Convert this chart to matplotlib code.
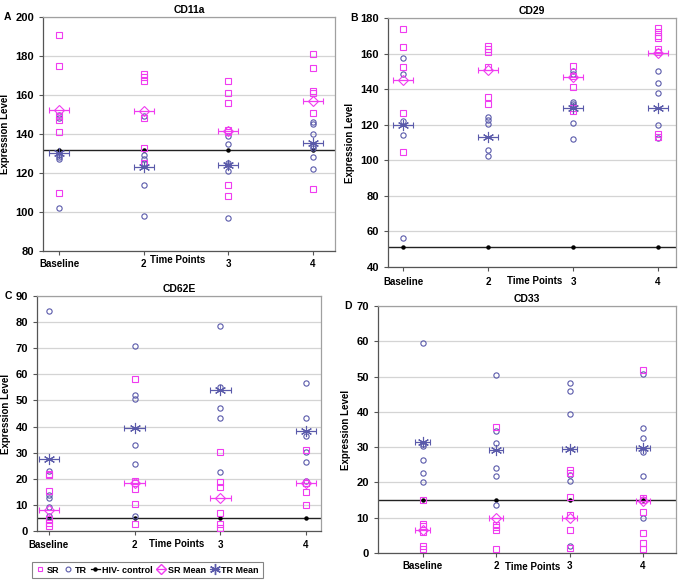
import numpy as np
import matplotlib
matplotlib.use("Agg")
import matplotlib.pyplot as plt
from matplotlib.lines import Line2D

plt.rcParams['font.family'] = ['Liberation Sans', 'DejaVu Sans']
plt.rcParams['font.weight'] = 'bold'
plt.rcParams['font.size'] = 7

categories = ["Baseline", "2", "3", "4"]

# CD11a
sr_a = [[191, 175, 149, 147, 141, 110], [171, 169, 167, 148, 133, 125],
        [167, 161, 156, 142, 141, 114, 108], [181, 174, 162, 161, 151, 112]]
tr_a = [[150, 148, 129, 128, 127, 102], [149, 129, 127, 125, 114, 98],
        [139, 135, 125, 124, 121, 97], [146, 145, 140, 134, 133, 128, 122]]
sr_mean_a = [152.5, 152, 141.5, 157]
tr_mean_a = [130.5, 123, 124, 135.5]
ctrl_a = [132, 132, 132, 132]

# CD29
sr_b = [[173.8, 163.6, 152.7, 126.4, 104.5], [164, 162.5, 161, 152.7, 135.6, 131.5],
        [153.3, 147.3, 141.5, 129.3, 128], [174.5, 172.3, 170, 169, 162.7, 161, 114.6, 113.3]]
tr_b = [[157.6, 148.6, 122.3, 114.4, 56.2], [124.4, 122.5, 120.6, 105.8, 102.6],
        [150.3, 148.6, 132.6, 131.7, 130.6, 120.8, 111.8], [150.5, 143.7, 137.7, 119.7, 112.5]]
sr_mean_b = [145, 151, 147, 160.5]
tr_mean_b = [120, 113, 129.5, 129.5]
ctrl_b = [51, 51, 51, 51]

# CD62E
sr_c = [[22, 21.4, 15.4, 4.5, 2.9, 1.9], [58.1, 19, 18.2, 16.1, 10.5, 2.5],
        [30.2, 18.6, 17, 7.0, 2.5, 1.0], [31, 18.4, 18.4, 15, 9.8]]
tr_c = [[84.3, 23.1, 13.8, 12.5, 9.3, 5.7], [70.9, 52, 50.4, 32.9, 25.8, 5.7],
        [78.4, 55.2, 47.2, 43.1, 22.7], [56.6, 43.1, 36.5, 30.1, 26.6, 19.1]]
sr_mean_c = [8, 18.5, 12.6, 18.5]
tr_mean_c = [27.4, 39.5, 54.1, 38.2]
ctrl_c = [5, 5, 5, 5]

# CD33
sr_d = [[15.1, 8.3, 7.7, 5.9, 1.9, 1.1], [35.8, 7.9, 7.5, 6.6, 1.1],
        [23.4, 22.6, 16, 10.8, 6.5, 1.3], [51.9, 15.7, 15.1, 11.7, 5.7, 2.8, 1.1]]
tr_d = [[59.4, 30.8, 30.4, 26.3, 22.8, 20.1], [50.5, 34.7, 31.3, 24.1, 21.9, 13.7],
        [48.2, 45.9, 39.5, 22.1, 20.3, 1.9], [50.6, 35.4, 32.5, 28.6, 21.9, 9.8]]
sr_mean_d = [6.6, 9.8, 9.9, 14.7]
tr_mean_d = [31.5, 29.2, 29.5, 29.7]
ctrl_d = [15, 15, 15, 15]

SR_C = "#F03CF0"
TR_C = "#5A5AAA"

panels = [
    # letter, title, sr, tr, srm, trm, ctrl, rect, xlim, ylim, step,
    # ylabel x, "Time Points" x / offset, tick pad, letter offset
    ("A", "CD11a", sr_a, tr_a, sr_mean_a, tr_mean_a, ctrl_a,
     [0.0628, 0.5687, 0.426, 0.402], (-0.19, 3.26), (80, 200), 20,
     -0.113, 0.462, 6.5, 3.0, -23),
    ("B", "CD29", sr_b, tr_b, sr_mean_b, tr_mean_b, ctrl_b,
     [0.5664, 0.5412, 0.4204, 0.4278], (-0.18, 3.21), (40, 180), 20,
     -0.115, 0.51, 10, 4.5, -22),
    ("C", "CD62E", sr_c, tr_c, sr_mean_c, tr_mean_c, ctrl_c,
     [0.054, 0.0876, 0.4146, 0.4038], (-0.14, 3.175), (0, 90), 10,
     -0.092, 0.49, 9.4, 3.5, -18),
    ("D", "CD33", sr_d, tr_d, sr_mean_d, tr_mean_d, ctrl_d,
     [0.5518, 0.0498, 0.435, 0.4244], (-0.61, 3.45), (0, 70), 10,
     -0.091, 0.52, 10, 2.5, -19),
]

fig = plt.figure(figsize=(6.85, 5.82), dpi=100)

for (letter, title, sr, tr, srm, trm, ctrl, rect, xlim, ylim, step,
     ylab_x, tp_x, tp_dy, tpad, let_dx) in panels:
    ax = fig.add_axes(rect)
    ax.set_xlim(*xlim)
    ax.set_ylim(*ylim)
    ax.set_yticks(np.arange(ylim[0], ylim[1] + 1, step))
    ax.yaxis.grid(True, color="#d4d4d4", lw=0.9)
    ax.set_axisbelow(True)
    x = np.arange(len(categories))

    # HIV- control line
    ax.axhline(ctrl[0], color="#222222", lw=1.0, zorder=2)
    ax.plot(x, ctrl, ls="none", marker="o", ms=2.2, color="black", zorder=3)

    for i in range(len(categories)):
        ax.plot([x[i]] * len(tr[i]), tr[i], ls="none", marker="o", ms=3.8,
                mfc="none", mec=TR_C, mew=0.8, zorder=4)
        ax.plot([x[i]] * len(sr[i]), sr[i], ls="none", marker="s", ms=3.8,
                mfc="none", mec=SR_C, mew=0.8, zorder=4)

    xe = 0.12 if letter != "D" else 0.1
    ax.errorbar(x, srm, xerr=xe, ls="none", marker="D", ms=5, mfc="none",
                mec=SR_C, mew=0.8, ecolor=SR_C, elinewidth=0.9, capsize=2,
                capthick=0.9, zorder=5)
    ax.errorbar(x, trm, xerr=xe, ls="none", marker=(6, 2, 0), ms=8,
                color=TR_C, mec=TR_C, mew=0.8, ecolor=TR_C, elinewidth=0.9,
                capsize=2, capthick=0.9, zorder=5)

    ax.set_xticks(x)
    ax.set_xticklabels(categories, fontsize=7, fontweight="bold")
    ax.tick_params(axis="both", length=3, width=0.8, color="#555555")
    ax.tick_params(axis="x", pad=tpad, labelsize=7)
    ax.tick_params(axis="y", labelsize=8)
    for s in ["top", "right"]:
        ax.spines[s].set_color("#a0a0a0")
    for s in ["left", "bottom"]:
        ax.spines[s].set_color("#555555")
    for s in ax.spines.values():
        s.set_linewidth(0.9)

    ax.set_ylabel("Expression Level", fontsize=7, fontweight="bold")
    ax.yaxis.set_label_coords(ylab_x, 0.5)
    ax.set_title(title, fontsize=7.5, fontweight="bold", pad=3)
    ax.annotate("Time Points", xy=(tp_x, 0), xycoords="axes fraction",
                xytext=(0, -tp_dy), textcoords="offset points",
                ha="center", va="center", fontsize=7, fontweight="bold")
    ax.annotate(letter, xy=(0, 1), xycoords="axes fraction",
                xytext=(let_dx, 0), textcoords="offset points",
                ha="right", va="center", fontsize=7.5, fontweight="bold")

# legend
h_sr = Line2D([], [], ls="none", marker="s", ms=3.5, mfc="none", mec=SR_C, mew=0.8)
h_tr = Line2D([], [], ls="none", marker="o", ms=3.5, mfc="none", mec=TR_C, mew=0.8)
h_ct = Line2D([], [], color="black", lw=0.9, marker="o", ms=2.2)
h_srm = Line2D([], [], color=SR_C, lw=0.9, marker="D", ms=5, mfc="none", mec=SR_C)
h_trm = Line2D([], [], color=TR_C, lw=0.9, marker=(6, 2, 0), ms=8, mec=TR_C)
leg = fig.legend([h_sr, h_tr, h_ct, h_srm, h_trm],
                 ["SR", "TR", "HIV- control", "SR Mean", "TR Mean"],
                 loc="upper left", bbox_to_anchor=(32 / 685, 1 - 562 / 582),
                 ncol=5, fontsize=6.5, frameon=True, fancybox=False,
                 handlelength=1.0, handletextpad=0.25, columnspacing=0.45,
                 borderpad=0.4, borderaxespad=0)
leg.get_frame().set_edgecolor("#666666")
leg.get_frame().set_linewidth(0.8)
for t in leg.get_texts():
    t.set_fontweight("bold")

fig.savefig("out.png", dpi=100)
